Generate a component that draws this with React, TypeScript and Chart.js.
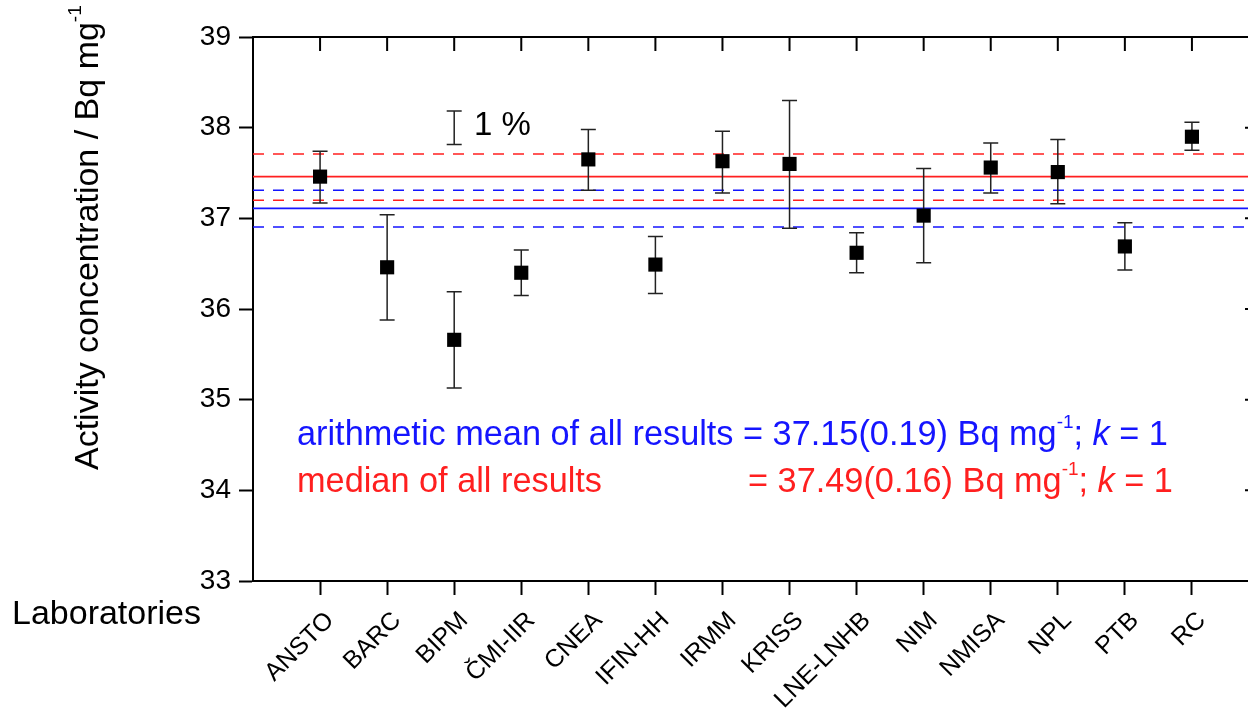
import React, { useEffect, useRef } from "react";
import { Chart, registerables } from "chart.js";

Chart.register(...registerables);

// ---------- data ----------
const labs = ["ANSTO", "BARC", "BIPM", "ČMI-IIR", "CNEA", "IFIN-HH", "IRMM", "KRISS", "LNE-LNHB", "NIM", "NMISA", "NPL", "PTB", "RC"];
const labPositions = [1, 2, 3, 4, 5, 6, 7, 8, 9, 10, 11, 12, 13, 14];
const values = [37.46, 36.46, 35.66, 36.40, 37.65, 36.49, 37.63, 37.60, 36.62, 37.03, 37.56, 37.51, 36.69, 37.90];
const errLow = [37.17, 35.88, 35.13, 36.15, 37.31, 36.17, 37.28, 36.89, 36.40, 36.51, 37.28, 37.16, 36.43, 37.75];
const errHigh = [37.74, 37.04, 36.19, 36.65, 37.98, 36.80, 37.96, 38.30, 36.84, 37.55, 37.83, 37.87, 36.95, 38.06];

const meanLine = 37.11;
const meanBand = [36.905, 37.31];
const medianLine = 37.46;
const medianBand = [37.2, 37.71];

const onePercentX = 3;
const onePercentRange = [37.815, 38.185];

const xRange = [0, 15];
const yRange = [33, 39];

const yTitle = "Activity concentration / Bq mg";
const xTitle = "Laboratories";
const meanText = "arithmetic mean of all results = 37.15(0.19) Bq mg";
const medianTextA = "median of all results";
const medianTextB = "= 37.49(0.16) Bq mg";

const FONT = '"Liberation Sans", Arial, sans-serif';
const BLUE = "#1515ff";
const RED = "#ff1f1f";
const NOTE = 34.3;

type Part = { t: string; size: number; italic?: boolean; dy?: number };

function drawParts(ctx: CanvasRenderingContext2D, parts: Part[], x: number, y: number) {
  let cx = x;
  for (const p of parts) {
    ctx.font = `${p.italic ? "italic " : ""}${p.size}px ${FONT}`;
    ctx.fillText(p.t, cx, y + (p.dy || 0));
    cx += ctx.measureText(p.t).width;
  }
  return cx;
}

const hLine = (v: number) => [
  { x: xRange[0], y: v },
  { x: xRange[1], y: v },
];

const framePlugin = {
  id: "frameAndNotes",
  beforeDatasetDraw(chart: any, args: any) {
    if (args.index !== 0) return;
    const { ctx } = chart;
    const xs = chart.scales.x;
    const ys = chart.scales.y;
    ctx.save();
    ctx.strokeStyle = "#222";
    ctx.lineWidth = 1.5;
    const cap = 7.5;
    const bar = (xv: number, lo: number, hi: number) => {
      const px = xs.getPixelForValue(xv);
      const y1 = ys.getPixelForValue(lo);
      const y2 = ys.getPixelForValue(hi);
      ctx.beginPath();
      ctx.moveTo(px, y1);
      ctx.lineTo(px, y2);
      ctx.moveTo(px - cap, y1);
      ctx.lineTo(px + cap, y1);
      ctx.moveTo(px - cap, y2);
      ctx.lineTo(px + cap, y2);
      ctx.stroke();
    };
    labPositions.forEach((xv, i) => bar(xv, errLow[i], errHigh[i]));
    bar(onePercentX, onePercentRange[0], onePercentRange[1]);
    ctx.restore();
  },
  afterDraw(chart: any) {
    const { ctx, chartArea } = chart;
    const xs = chart.scales.x;
    const ys = chart.scales.y;
    const { left, right, top, bottom } = chartArea;
    ctx.save();
    // top and right frame with inward ticks
    ctx.strokeStyle = "#000";
    ctx.lineWidth = 2;
    ctx.beginPath();
    ctx.moveTo(left - 1, top);
    ctx.lineTo(right + 1, top);
    ctx.moveTo(right, top);
    ctx.lineTo(right, bottom);
    labPositions.forEach((xv) => {
      const px = xs.getPixelForValue(xv);
      ctx.moveTo(px, top);
      ctx.lineTo(px, top + 14);
    });
    ys.ticks.forEach((t: any) => {
      const py = ys.getPixelForValue(t.value);
      ctx.moveTo(right, py);
      ctx.lineTo(right - 14, py);
    });
    ctx.stroke();

    // texts
    ctx.fillStyle = "#000";
    ctx.textBaseline = "alphabetic";
    ctx.textAlign = "left";
    // y title
    ctx.save();
    ctx.translate(98, 470);
    ctx.rotate(-Math.PI / 2);
    drawParts(ctx, [
      { t: yTitle, size: 34 },
      { t: "-1", size: 19, dy: -17 },
    ], 0, 0);
    ctx.restore();
    // x title
    drawParts(ctx, [{ t: xTitle, size: 34 }], 12, 624);
    // 1 %
    drawParts(ctx, [{ t: "1 %", size: 33 }], 474, 135);

    // mean / median notes
    const tx = 297;
    ctx.fillStyle = BLUE;
    drawParts(ctx, [
      { t: meanText, size: NOTE },
      { t: "-1", size: 19, dy: -17 },
      { t: "; ", size: NOTE },
      { t: "k", size: NOTE, italic: true },
      { t: " = 1", size: NOTE },
    ], tx, 445);
    ctx.font = `${NOTE}px ${FONT}`;
    const offs = ctx.measureText("arithmetic mean of all results ").width;
    ctx.fillStyle = RED;
    drawParts(ctx, [{ t: medianTextA, size: NOTE }], tx, 492);
    drawParts(ctx, [
      { t: medianTextB, size: NOTE },
      { t: "-1", size: 19, dy: -17 },
      { t: "; ", size: NOTE },
      { t: "k", size: NOTE, italic: true },
      { t: " = 1", size: NOTE },
    ], tx + offs + 5, 492);
    ctx.restore();
  },
};

export default function App() {
  const ref = useRef<HTMLCanvasElement>(null);
  useEffect(() => {
    if (!ref.current) return;
    const lineDs = (v: number, color: string, dashed: boolean) => ({
      type: "scatter" as const,
      data: hLine(v),
      showLine: true,
      borderColor: color,
      borderWidth: 1.6,
      borderDash: dashed ? [11, 9] : [],
      pointRadius: 0,
      pointHoverRadius: 0,
    });
    const chart = new Chart(ref.current, {
      type: "scatter",
      data: {
        datasets: [
          {
            data: labPositions.map((x, i) => ({ x, y: values[i] })),
            pointStyle: "rect",
            pointRadius: 10,
            backgroundColor: "#000",
            borderColor: "#000",
            borderWidth: 0,
          } as any,
          lineDs(meanLine, BLUE, false),
          lineDs(meanBand[0], BLUE, true),
          lineDs(meanBand[1], BLUE, true),
          lineDs(medianLine, RED, false),
          lineDs(medianBand[0], RED, true),
          lineDs(medianBand[1], RED, true),
        ],
      },
      options: {
        responsive: false,
        animation: false,
        devicePixelRatio: 1,
        layout: { padding: { left: 0, top: 37, right: 21, bottom: 0 } },
        plugins: { legend: { display: false }, tooltip: { enabled: false } },
        scales: {
          x: {
            type: "linear",
            min: xRange[0],
            max: xRange[1],
            afterFit: (s: any) => {
              s.height = 127;
              s.paddingRight = 0;
              s.paddingLeft = 0;
            },
            ticks: {
              stepSize: 1,
              autoSkip: false,
              minRotation: 45,
              maxRotation: 45,
              padding: 11,
              labelOffset: 10,
              color: "#000",
              font: { family: FONT, size: 25 },
              callback: (v: any) => {
                const i = labPositions.indexOf(Number(v));
                return i >= 0 ? labs[i] : "";
              },
            },
            grid: {
              drawOnChartArea: false,
              drawTicks: true,
              tickLength: 14,
              tickWidth: 2,
              tickColor: (c: any) =>
                c.tick && labPositions.indexOf(c.tick.value) >= 0 ? "#000" : "rgba(0,0,0,0)",
            },
            border: { display: true, color: "#000", width: 2 },
          },
          y: {
            type: "linear",
            min: yRange[0],
            max: yRange[1],
            afterFit: (s: any) => {
              s.width = 253;
            },
            ticks: {
              stepSize: 1,
              padding: 8,
              color: "#000",
              font: { family: FONT, size: 28 },
            },
            grid: {
              drawOnChartArea: false,
              drawTicks: true,
              tickLength: 14,
              tickWidth: 2,
              tickColor: "#000",
            },
            border: { display: true, color: "#000", width: 2 },
          },
        },
      },
      plugins: [framePlugin],
    });
    return () => chart.destroy();
  }, []);

  return (
    <div
      style={{
        position: "fixed",
        left: 0,
        top: 0,
        width: 1248,
        height: 708,
        overflow: "hidden",
        background: "#fff",
      }}
    >
      <canvas ref={ref} width={1280} height={708} style={{ width: 1280, height: 708, display: "block" }} />
    </div>
  );
}
